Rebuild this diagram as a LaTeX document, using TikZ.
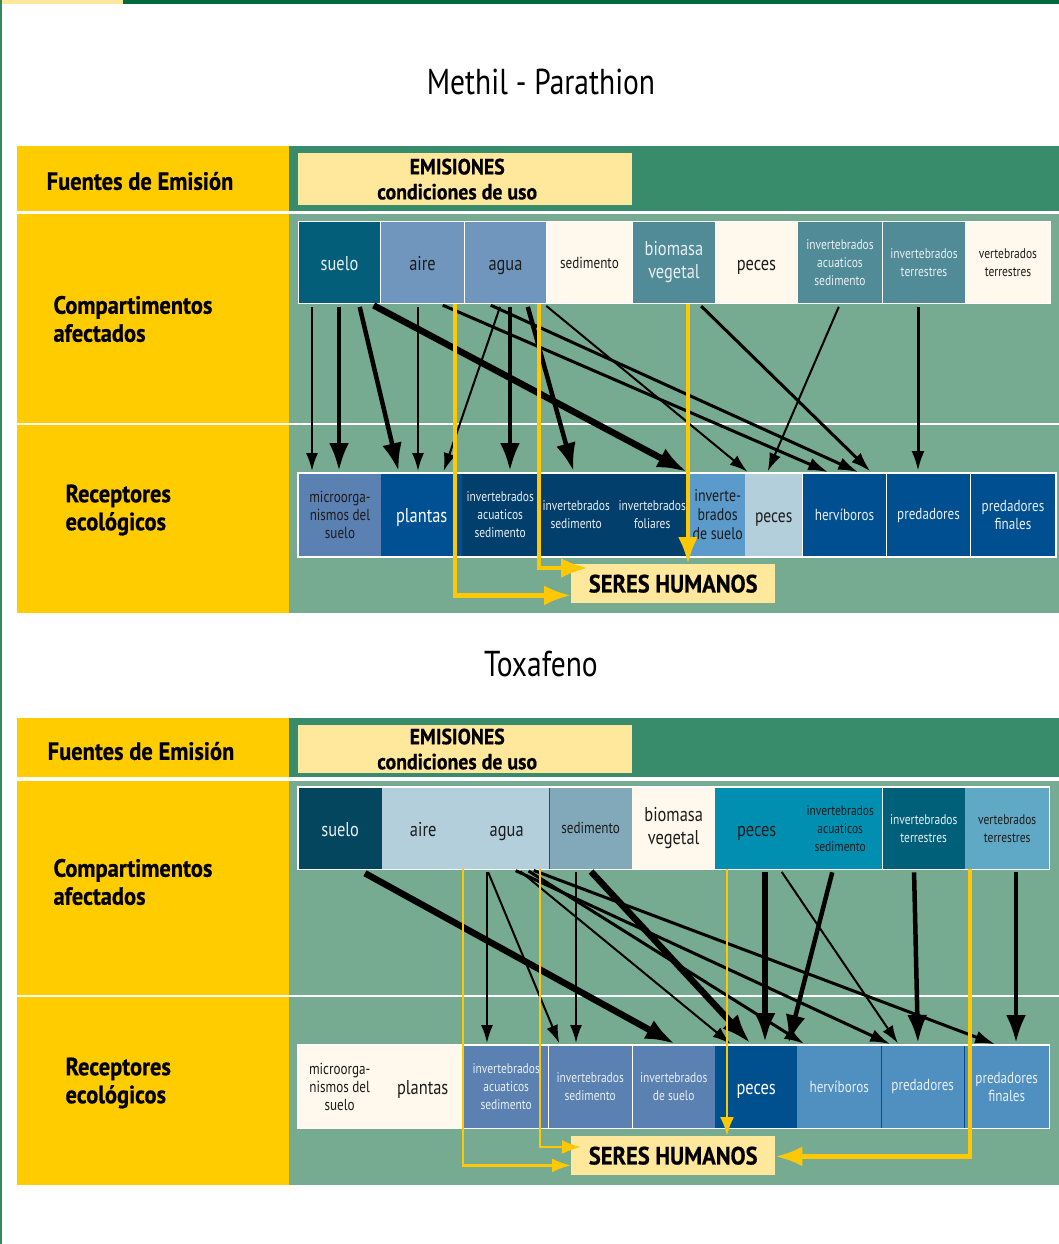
\documentclass[tikz,border=0pt]{standalone}
\usepackage{fontspec}
\setmainfont{PT Sans}[FakeStretch=0.82, BoldFeatures={FakeStretch=0.9, FakeBold=0.6}]
\usetikzlibrary{arrows.meta, positioning}

\definecolor{amarillo}{HTML}{FFCC00}
\definecolor{crema}{HTML}{FFE79C}
\definecolor{hueso}{HTML}{FEF9EC}
\definecolor{verdeosc}{HTML}{388B6B}
\definecolor{verdecl}{HTML}{76AA91}
\definecolor{barra}{HTML}{00693F}
\definecolor{tealA}{HTML}{035F79}
\definecolor{aceroA}{HTML}{7196BE}
\definecolor{tealB}{HTML}{528B98}
\definecolor{azulA}{HTML}{5B80B2}
\definecolor{azulB}{HTML}{005193}
\definecolor{marino}{HTML}{033F6D}
\definecolor{celeste}{HTML}{5A9BCB}
\definecolor{palido}{HTML}{B3CFDB}
\definecolor{azulC}{HTML}{004F90}
\definecolor{tealC}{HTML}{03465D}
\definecolor{grisaz}{HTML}{81A9BA}
\definecolor{cian}{HTML}{008FB1}
\definecolor{tealD}{HTML}{005F79}
\definecolor{celesteB}{HTML}{5FA9C7}
\definecolor{azulD}{HTML}{00508F}
\definecolor{azulE}{HTML}{4F90C1}
\definecolor{flecha}{HTML}{FFC800}
\definecolor{letraclara}{HTML}{E8EFF4}
\definecolor{letraosc}{HTML}{1C1C1C}

\begin{document}
\begin{tikzpicture}[x=1pt, y=-1pt,
    % Node styles
    cell/.style={anchor=north west, inner sep=1pt, align=center, minimum height=82pt},
    wb/.style={draw=white, line width=1pt},
    lt/.style={text=letraclara},
    dk/.style={text=letraosc},
    fA/.style={font=\fontsize{20}{23}\selectfont},
    fB/.style={font=\fontsize{16}{18}\selectfont},
    fC/.style={font=\fontsize{14}{18}\selectfont},
    one/.style={text height=16pt, text depth=0pt},
    rowtxt/.style={anchor=west, align=left, text=black, font=\bfseries\fontsize{25}{28}\selectfont},
    emis/.style={anchor=north west, fill=crema, minimum width=334pt, align=center,
                 font=\bfseries\fontsize{22}{25}\selectfont},
    seres/.style={anchor=north west, fill=crema, minimum width=204pt, minimum height=39pt,
                  font=\bfseries\fontsize{25}{28}\selectfont},
    titulo/.style={font=\fontsize{36}{40}\selectfont},
    % Arrow styles
    arrowS/.style={-{Latex[length=18pt,width=12pt]}, line width=2pt, shorten <=3pt, shorten >=2pt},
    arrowM/.style={-{Latex[length=20pt,width=13pt]}, line width=3pt, shorten <=3pt, shorten >=2pt},
    arrowB/.style={-{Latex[length=28pt,width=20pt]}, line width=4.5pt, shorten <=3pt, shorten >=2pt},
    arrowX/.style={-{Latex[length=30pt,width=21pt]}, line width=6.5pt, shorten <=3pt, shorten >=2pt},
    yarrowS/.style={-{Latex[length=19pt,width=14pt]}, line width=2.7pt, draw=flecha},
    yarrowB/.style={-{Latex[length=27pt,width=20pt]}, line width=4.5pt, draw=flecha}
]
\useasboundingbox (0,0) rectangle (1059,1244);

% Page frame
\fill[crema] (0,0) rectangle (123,4);
\fill[barra] (123,0) rectangle (1059,4);
\draw[barra!80, line width=1.2pt] (1,0) -- (1,1244);

% ---------------- Methil - Parathion ----------------
\node[titulo] (titulo1) at (541,82) {Methil - Parathion};

% Bands
\fill[amarillo] (17,146) rectangle (289,211);
\fill[amarillo] (17,214) rectangle (289,613);
\fill[verdeosc] (289,146) rectangle (1059,211);
\fill[verdecl] (289,214) rectangle (1059,613);
\draw[white, line width=1.5pt] (17,424) -- (1059,424);

% Row titles
\node[rowtxt, anchor=center] (fuentes1) at (140,181) {Fuentes de Emisión};
\node[rowtxt] (comp1) at (50,319) {Compartimentos\\afectados};
\node[rowtxt] (recep1) at (62,510) {Receptores\\ecológicos};

% Emissions
\node[emis, minimum height=52pt] (emis1) at (298,153) {EMISIONES\hspace*{16pt}\\condiciones de uso\hspace*{16pt}};

% Compartments
\node[cell, wb, fill=tealA, lt, fA, one, minimum width=82pt] (suelo1) at (298,221) {suelo};
\node[cell, wb, fill=aceroA, dk, fA, one, minimum width=84pt] (aire1) at (380,221) {aire};
\node[cell, wb, fill=aceroA, dk, fA, one, minimum width=82pt] (agua1) at (464,221) {agua};
\node[cell, wb, fill=hueso, dk, fB, minimum width=86pt] (sed1) at (546,221) {sedimento};
\node[cell, wb, fill=tealB, lt, fA, minimum width=83pt] (biomasa1) at (632,221) {biomasa\\vegetal};
\node[cell, wb, fill=hueso, dk, fA, one, minimum width=82pt] (pecesc1) at (715,221) {peces};
\node[cell, wb, fill=tealB, lt, fC, minimum width=85pt] (invacc1) at (797,221) {invertebrados\\acuaticos\\sedimento};
\node[cell, wb, fill=tealB, lt, fC, minimum width=83pt] (invterr1) at (882,221) {invertebrados\\terrestres};
\node[cell, wb, fill=hueso, dk, fC, minimum width=85pt] (vertterr1) at (965,221) {vertebrados\\terrestres};

% Receptors
\node[cell, wb, fill=azulA, dk, fB, minimum width=83pt, minimum height=83pt] (micro1) at (298,473) {microorga-\\nismos del\\suelo};
\node[cell, fill=azulB, text=white, fA, one, minimum width=81pt, minimum height=83pt] (plantas1) at (381,473) {plantas};
\node[cell, fill=marino, lt, fC, minimum width=76pt, minimum height=83pt] (invacr1) at (462,473) {invertebrados\\acuaticos\\sedimento};
\node[cell, fill=marino, lt, fC, minimum width=76pt, minimum height=83pt] (invsed1) at (538,473) {invertebrados\\sedimento};
\node[cell, fill=marino, lt, fC, minimum width=76pt, minimum height=83pt] (invfol1) at (614,473) {invertebrados\\foliares};
\node[cell, fill=celeste, dk, font=\fontsize{17}{19}\selectfont, minimum width=55pt, minimum height=83pt] (desuelo1) at (690,473) {inverte-\\brados\\de suelo};
\node[cell, fill=palido, dk, font=\fontsize{19}{21}\selectfont, one, minimum width=57pt, minimum height=83pt] (pecesr1) at (745,473) {peces};
\node[cell, wb, fill=azulC, lt, fB, minimum width=84pt, minimum height=83pt] (herv1) at (802,473) {hervíboros};
\node[cell, wb, fill=azulC, lt, fB, minimum width=84pt, minimum height=83pt] (pred1) at (886,473) {predadores};
\node[cell, wb, fill=azulC, lt, fB, minimum width=85pt, minimum height=83pt] (predfin1) at (970,473) {predadores\\finales};
\draw[white, line width=1.2pt] (micro1.north west) rectangle (predfin1.south east);

% Humans
\node[seres] (seres1) at (571,564) {SERES HUMANOS};

% Arrows
\draw[arrowS] (suelo1.south -| 312,0) -- (micro1.north -| 312,0);
\draw[arrowB] (suelo1.south -| 339,0) -- (micro1.north -| 339,0);
\draw[arrowB] (suelo1.south -| 359,0) -- (plantas1.north -| 399,0);
\draw[arrowX] (suelo1.south -| 371,0) -- (desuelo1.north -| 689,0);
\draw[arrowS] (aire1.south -| 418,0) -- (plantas1.north -| 418,0);
\draw[arrowM] (aire1.south -| 440,0) -- (herv1.north -| 830,0);
\draw[arrowS] (agua1.south -| 501,0) -- (plantas1.north -| 443,0);
\draw[arrowM] (agua1.south -| 488,0) -- (herv1.north -| 860,0);
\draw[arrowB] (agua1.south -| 510,0) -- (invacr1.north -| 510,0);
\draw[arrowB] (agua1.south -| 527,0) -- (invsed1.north -| 574,0);
\draw[arrowS] (agua1.south -| 544,0) -- (pecesr1.north -| 749,0);
\draw[arrowM] (biomasa1.south -| 699,0) -- (herv1.north -| 872,0);
\draw[arrowS] (invacc1.south -| 840,0) -- (pecesr1.north -| 767,0);
\draw[arrowM] (invterr1.south -| 918,0) -- (pred1.north -| 918,0);

% Paths to humans
\draw[yarrowB] (aire1.south -| 455,0) |- ([yshift=8pt]seres1.south west);
\draw[yarrowB] (agua1.south -| 539,0) |- ([xshift=17pt,yshift=-4pt]seres1.north west);
\draw[yarrowB] (biomasa1.south -| 688,0) -- (seres1.north -| 688,0);

% ---------------- Toxafeno ----------------
\node[titulo] (titulo2) at (541,664) {Toxafeno};

% Bands
\fill[amarillo] (17,718) rectangle (289,777);
\fill[amarillo] (17,781) rectangle (289,1185);
\fill[verdeosc] (289,718) rectangle (1059,777);
\fill[verdecl] (289,781) rectangle (1059,1185);
\draw[white, line width=1.5pt] (17,996) -- (1059,996);

% Row titles
\node[rowtxt, anchor=center] (fuentes2) at (141,751) {Fuentes de Emisión};
\node[rowtxt] (comp2) at (50,882) {Compartimentos\\afectados};
\node[rowtxt] (recep2) at (62,1083) {Receptores\\ecológicos};

% Emissions
\node[emis, minimum height=47pt] (emis2) at (298,725) {EMISIONES\hspace*{16pt}\\condiciones de uso\hspace*{16pt}};

% Compartments
\node[cell, fill=tealC, lt, fA, one, minimum width=84pt] (suelo2) at (298,787) {suelo};
\node[cell, fill=palido, dk, fA, one, minimum width=82pt] (aire2) at (382,787) {aire};
\node[cell, fill=palido, dk, fA, one, minimum width=85pt] (agua2) at (464,787) {agua};
\node[cell, fill=grisaz, dk, fB, minimum width=83pt] (sed2) at (549,787) {sedimento};
\node[cell, fill=hueso, dk, fA, minimum width=83pt] (biomasa2) at (632,787) {biomasa\\vegetal};
\node[cell, fill=cian, dk, fA, one, minimum width=83pt] (pecesc2) at (715,787) {peces};
\node[cell, fill=cian, dk, fC, minimum width=84pt] (invacc2) at (798,787) {invertebrados\\acuaticos\\sedimento};
\node[cell, fill=tealD, lt, fC, minimum width=83pt] (invterr2) at (882,787) {invertebrados\\terrestres};
\node[cell, fill=celesteB, dk, fC, minimum width=84pt] (vertterr2) at (965,787) {vertebrados\\terrestres};
\draw[tealD, line width=1pt] (sed2.north west) -- (sed2.south west);
\draw[white, line width=1pt] (invacc2.north east) -- (invacc2.south east);
\draw[white, line width=1.2pt] (suelo2.north west) rectangle (vertterr2.south east);

% Receptors
\node[cell, fill=hueso, dk, fB, minimum width=83pt, minimum height=83pt] (micro2) at (298,1045) {microorga-\\nismos del\\suelo};
\node[cell, fill=hueso, dk, fA, one, minimum width=83pt, minimum height=83pt] (plantas2) at (381,1045) {plantas};
\node[cell, fill=azulA, lt, fC, minimum width=84pt, minimum height=83pt] (invacr2) at (464,1045) {invertebrados\\acuaticos\\sedimento};
\node[cell, fill=azulA, lt, fC, minimum width=84pt, minimum height=83pt] (invsed2) at (548,1045) {invertebrados\\sedimento};
\node[cell, fill=azulA, lt, fC, minimum width=83pt, minimum height=83pt] (desuelo2) at (632,1045) {invertebrados\\de suelo};
\node[cell, fill=azulD, text=white, fA, one, minimum width=82pt, minimum height=83pt] (pecesr2) at (715,1045) {peces};
\node[cell, fill=azulE, lt, fB, minimum width=84pt, minimum height=83pt] (herv2) at (797,1045) {hervíboros};
\node[cell, fill=azulE, lt, fB, minimum width=83pt, minimum height=83pt] (pred2) at (881,1045) {predadores};
\node[cell, fill=azulE, lt, fB, minimum width=85pt, minimum height=83pt] (predfin2) at (964,1045) {predadores\\finales};
\draw[white, line width=1pt] (invacr2.north east) -- (invacr2.south east);
\draw[white, line width=1pt] (invsed2.north east) -- (invsed2.south east);
\draw[azulC, line width=1pt] (herv2.north east) -- (herv2.south east);
\draw[azulC, line width=1pt] (pred2.north east) -- (pred2.south east);
\draw[white, line width=1.2pt] (micro2.north west) rectangle (predfin2.south east);

% Humans
\node[seres] (seres2) at (571,1136) {SERES HUMANOS};

% Arrows
\draw[arrowX, shorten <=8pt] (suelo2.south -| 358,0) -- (desuelo2.north -| 677,0);
\draw[arrowS] (agua2.south -| 487,0) -- (invacr2.north -| 487,0);
\draw[arrowS] (agua2.south -| 487,0) -- (invsed2.north -| 560,0);
\draw[arrowS] (sed2.south -| 576,0) -- (invsed2.north -| 576,0);
\draw[arrowM] (agua2.south -| 513,0) -- (pred2.north -| 892,0);
\draw[arrowS] (agua2.south -| 518,0) -- (pecesr2.north -| 732,0);
\draw[arrowM] (agua2.south -| 526,0) -- (herv2.north -| 806,0);
\draw[arrowM] (agua2.south -| 531,0) -- (predfin2.north -| 997,0);
\draw[arrowS] (pecesc2.south -| 780,0) -- (pred2.north -| 899,0);
\draw[arrowX] (sed2.south -| 589,0) -- (pecesr2.north -| 752,0);
\draw[arrowX] (pecesc2.south -| 765,0) -- (pecesr2.north -| 765,0);
\draw[arrowB] (invacc2.south -| 833,0) -- (pecesr2.north -| 788,0);
\draw[arrowB] (invterr2.south -| 914,0) -- (pred2.north -| 918,0);
\draw[arrowB] (vertterr2.south -| 1016,0) -- (predfin2.north -| 1016,0);

% Paths to humans
\draw[yarrowS] (aire2.south -| 463,0) |- ([yshift=10pt]seres2.south west);
\draw[yarrowS] (agua2.south -| 540,0) |- ([xshift=10pt,yshift=-11pt]seres2.north west);
\draw[yarrowS] (pecesc2.south -| 727,0) -- (seres2.north -| 727,0);
\draw[yarrowB] (vertterr2.south -| 970,0) |- ([yshift=19pt]seres2.south east);

\end{tikzpicture}
\end{document}
